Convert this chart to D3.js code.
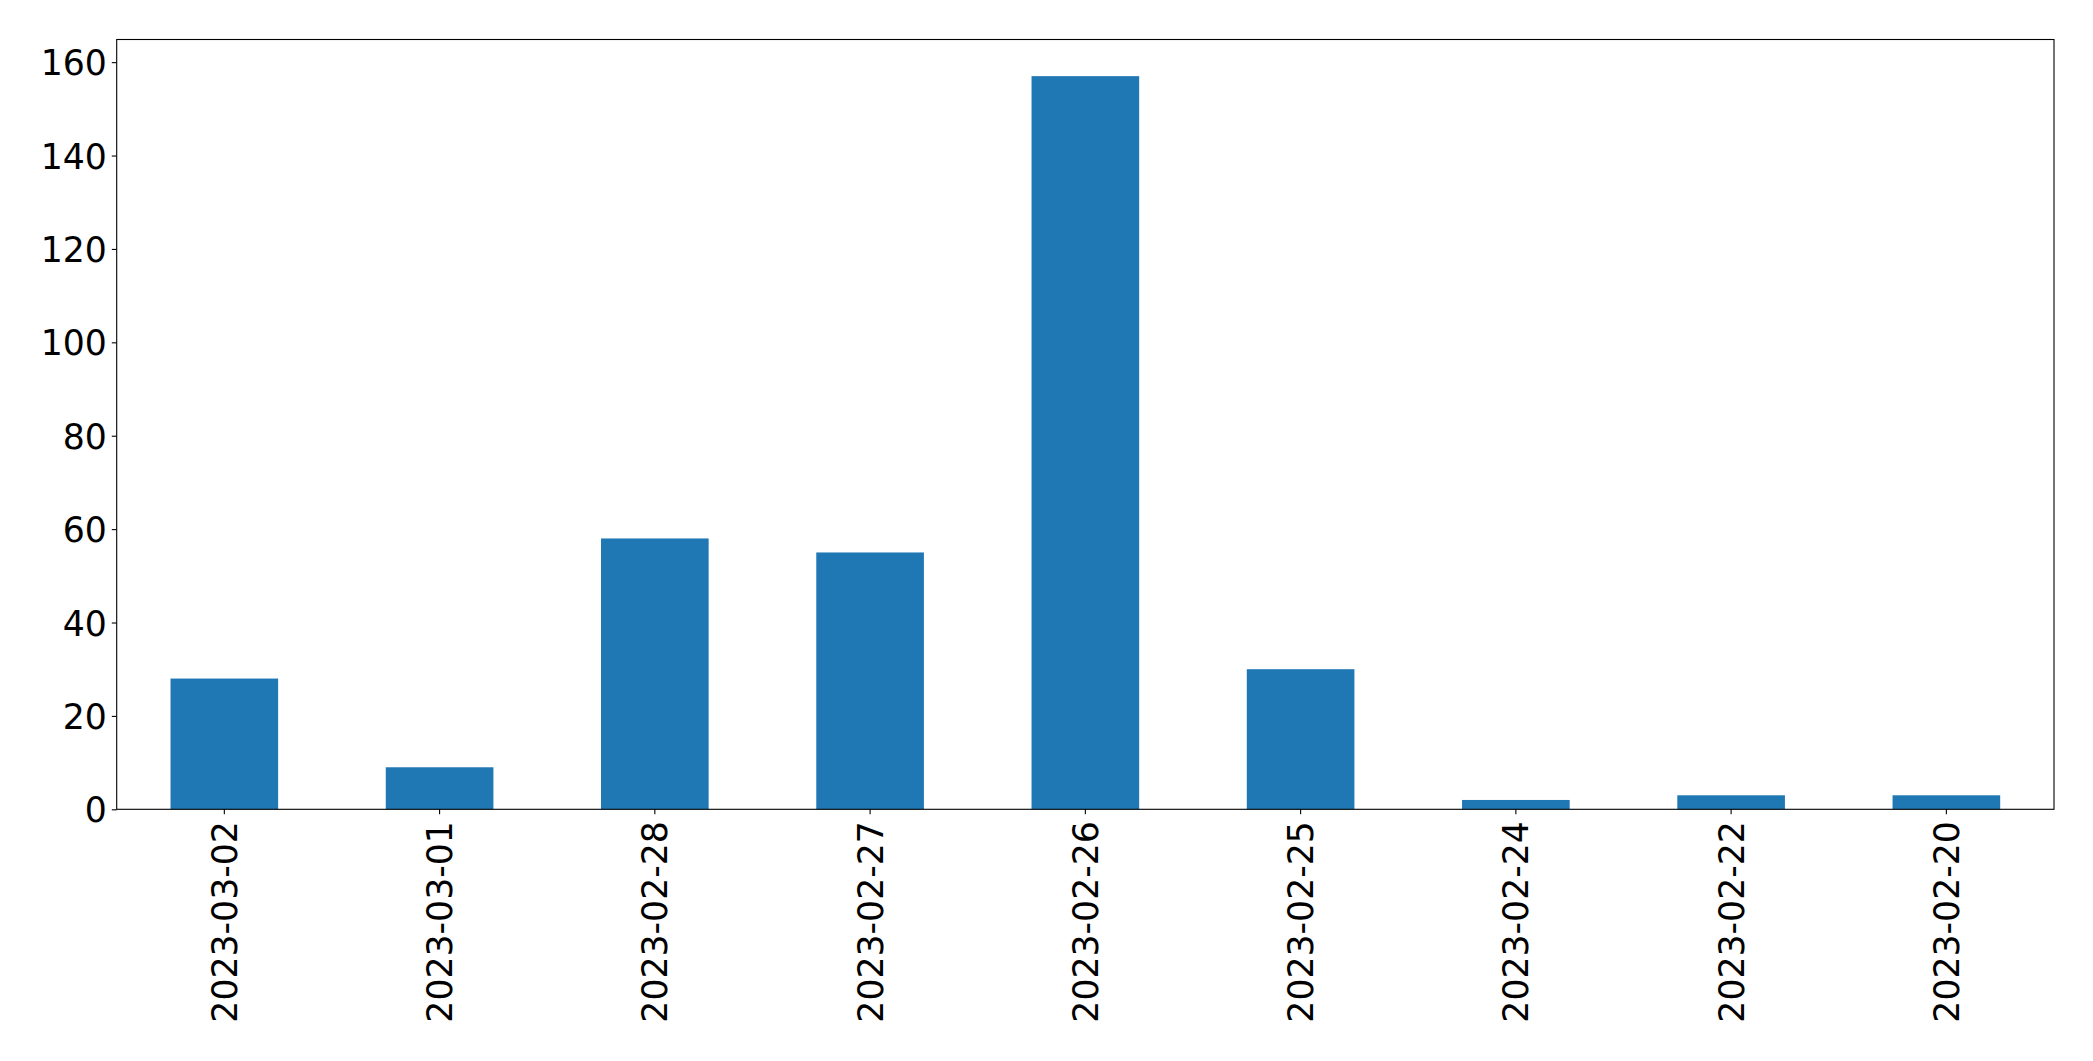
<!DOCTYPE html>
<html>
<head>
<meta charset="utf-8">
<script src="https://cdn.jsdelivr.net/npm/d3@7"></script>
<style>
  html, body { margin: 0; padding: 0; background: #fff; }
  svg { display: block; }
  text { font-family: "DejaVu Sans", sans-serif; }
</style>
</head>
<body>
<svg id="chart" width="2093" height="1061"></svg>
<script>
const categories = ["2023-03-02", "2023-03-01", "2023-02-28", "2023-02-27", "2023-02-26", "2023-02-25", "2023-02-24", "2023-02-22", "2023-02-20"];
const values = [28, 9, 58, 55, 157, 30, 2, 3, 3];
const yTicks = [0, 20, 40, 60, 80, 100, 120, 140, 160];

const W = 2093, H = 1061;
const margin = { left: 116.7, right: W - 2054, top: 39.5, bottom: H - 809.3 };
const svg = d3.select("#chart");
const plotW = W - margin.left - margin.right;
const plotH = H - margin.top - margin.bottom;
const g = svg.append("g").attr("transform", `translate(${margin.left},${margin.top})`);

const x = d3.scaleBand().domain(categories).range([0, plotW]).paddingInner(0.5).paddingOuter(0.25);
const yMax = d3.max(values) * 1.05;
const y = d3.scaleLinear().domain([0, yMax]).range([plotH, 0]);

g.selectAll("rect.bar").data(values).enter().append("rect")
  .attr("class", "bar")
  .attr("x", (d, i) => x(categories[i]))
  .attr("y", d => y(d))
  .attr("width", x.bandwidth())
  .attr("height", d => y(0) - y(d))
  .attr("fill", "#1f77b4");

const fs = "34.7px";
const tickLen = 4.9, pad = 4.9;

// Y axis
const yAxis = d3.axisLeft(y).tickValues(yTicks).tickSize(tickLen).tickPadding(pad).tickFormat(d3.format("d"));
const ya = g.append("g").call(yAxis);
ya.select(".domain").remove();
ya.selectAll(".tick line").attr("stroke", "#000").attr("stroke-width", 1.1);
ya.selectAll(".tick text").attr("font-size", fs).attr("fill", "#000").attr("font-family", "DejaVu Sans, sans-serif").attr("dy", "0.36em");

// X axis
const xAxis = d3.axisBottom(x).tickSize(tickLen).tickPadding(pad);
const xa = g.append("g").attr("transform", `translate(0,${plotH})`).call(xAxis);
xa.select(".domain").remove();
xa.selectAll(".tick line").attr("stroke", "#000").attr("stroke-width", 1.1);
xa.selectAll(".tick text")
  .attr("font-size", fs).attr("fill", "#000").attr("font-family", "DejaVu Sans, sans-serif")
  .attr("text-anchor", "end")
  .attr("x", 0).attr("y", 0).attr("dy", "0.36em")
  .attr("transform", `translate(0,${tickLen + pad + 2}) rotate(-90)`);

// Frame (spines)
g.append("rect").attr("x", 0).attr("y", 0).attr("width", plotW).attr("height", plotH)
  .attr("fill", "none").attr("stroke", "#000").attr("stroke-width", 1.1);
</script>
</body>
</html>
